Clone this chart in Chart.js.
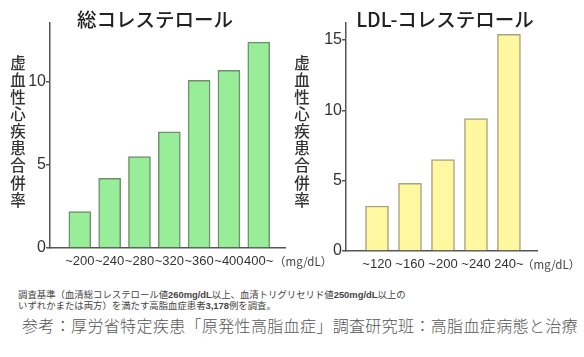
<!DOCTYPE html>
<html>
<head>
<meta charset="utf-8">
<script src="https://cdn.jsdelivr.net/npm/chart.js@4/dist/chart.umd.min.js"></script>
<style>
  html, body { margin:0; padding:0; background:#fff; }
  body { width:584px; height:357px; position:relative; overflow:hidden; font-family:"Noto Sans CJK JP","Noto Sans",sans-serif; }
  canvas { position:absolute; top:0; }
  #c1 { left:0; }
  #c2 { left:290px; }
  .note { position:absolute; left:18px; top:289px; font-size:9.4px; line-height:11px; color:#444; white-space:nowrap; }
  .note b { font-family:"Liberation Sans",Arial,sans-serif; font-weight:bold; }
  .ref { position:absolute; left:22px; top:314px; font-size:16px; line-height:22px; color:#555; white-space:nowrap; letter-spacing:0.35px; font-weight:300; }
</style>
</head>
<body>
<canvas id="c1" width="330" height="280"></canvas>
<canvas id="c2" width="294" height="280"></canvas>
<div class="note">調査基準（血清総コレステロール値<b>260mg/dL</b>以上、血清トリグリセリド値<b>250mg/dL</b>以上の<br>いずれかまたは両方）を満たす高脂血症患者<b>3,178</b>例を調査。</div>
<div class="ref">参考：厚労省特定疾患「原発性高脂血症」調査研究班：高脂血症病態と治療</div>
<script>
// ---- data ----
const totalLabels = ['~200', '~240', '~280', '~320', '~360', '~400', '400~'];
const totalValues = [2.2, 4.2, 5.5, 7.0, 10.1, 10.7, 12.4];
const ldlLabels = ['~120', '~160', '~200', '~240', '240~'];
const ldlValues = [3.2, 4.8, 6.5, 9.4, 15.4];
const yTicksTotal = [0, 5, 10];
const yTicksLdl = [0, 5, 10, 15];
const yLabelChars = ['虚', '血', '性', '心', '疾', '患', '合', '併', '率'];
const unitText = '（mg/dL）';

const textPlugin = {
  id: 'texts',
  afterDraw(chart, args, o) {
    const ctx = chart.ctx;
    ctx.save();
    ctx.fillStyle = '#222';
    ctx.textAlign = 'center';
    ctx.textBaseline = 'middle';
    ctx.font = '500 19.5px "Noto Sans CJK JP", sans-serif';
    ctx.fillText(o.title, o.titleX, 20);
    ctx.fillStyle = '#333';
    ctx.font = '500 15.5px "Noto Sans CJK JP", sans-serif';
    yLabelChars.forEach((c, i) => ctx.fillText(c, o.vX, 63 + i * 17.1));
    ctx.textAlign = 'left';
    ctx.fillStyle = '#444';
    ctx.font = '11.5px "Noto Sans CJK JP", sans-serif';
    ctx.fillText(unitText, o.unitX, chart.chartArea.bottom + 14);
    ctx.restore();
  }
};

function makeChart(id, labels, values, yTicks, cfg) {
  return new Chart(document.getElementById(id), {
    type: 'bar',
    data: {
      datasets: [{
        data: values.map((v, i) => ({ x: i, y: v })),
        backgroundColor: cfg.fill,
        borderColor: cfg.border,
        borderWidth: 1.5,
        barThickness: cfg.barW
      }]
    },
    plugins: [textPlugin],
    options: {
      responsive: false,
      animation: false,
      devicePixelRatio: 1,
      layout: { padding: { left: 0, top: 23, right: cfg.padRight, bottom: 0 } },
      plugins: {
        legend: { display: false },
        tooltip: { enabled: false },
        texts: cfg.texts
      },
      scales: {
        x: {
          type: 'linear',
          offset: false,
          min: cfg.xMin,
          max: cfg.xMax,
          grid: { display: false, drawTicks: false, offset: false },
          border: { display: true, color: '#555', width: 1.5 },
          afterFit: s => { s.height = cfg.xAxisH; },
          afterBuildTicks: s => { s.ticks = labels.map((l, i) => ({ value: i })); },
          ticks: {
            autoSkip: false,
            maxRotation: 0,
            padding: 6,
            color: '#333',
            font: { family: '"Liberation Sans", Arial, sans-serif', size: 13 },
            callback: v => labels[v]
          }
        },
        y: {
          type: 'linear',
          min: 0,
          max: cfg.yMax,
          grid: { drawOnChartArea: false, drawTicks: true, tickLength: 4, color: '#555', lineWidth: 1.5 },
          border: { display: true, color: '#555', width: 1.5 },
          afterFit: s => { s.width = cfg.yAxisW; },
          afterBuildTicks: s => { s.ticks = yTicks.map(v => ({ value: v })); },
          ticks: {
            padding: 0,
            color: '#333',
            font: { family: '"Liberation Sans", Arial, sans-serif', size: 16 }
          }
        }
      }
    }
  });
}

makeChart('c1', totalLabels, totalValues, yTicksTotal, {
  fill: '#98ee98', border: '#6f8f6f', barW: 22,
  padRight: 45, xAxisH: 32, yAxisW: 50,
  xMin: -1.0, xMax: 6.88, yMax: 13.55,
  texts: { title: '総コレステロール', titleX: 155, vX: 18, unitX: 274 }
});

makeChart('c2', ldlLabels, ldlValues, yTicksLdl, {
  fill: '#fff8a0', border: '#aaa37a', barW: 23,
  padRight: 47, xAxisH: 29, yAxisW: 56,
  xMin: -0.94, xMax: 4.85, yMax: 16.2,
  texts: { title: 'LDL-コレステロール', titleX: 155, vX: 12, unitX: 232 }
});
</script>
</body>
</html>
